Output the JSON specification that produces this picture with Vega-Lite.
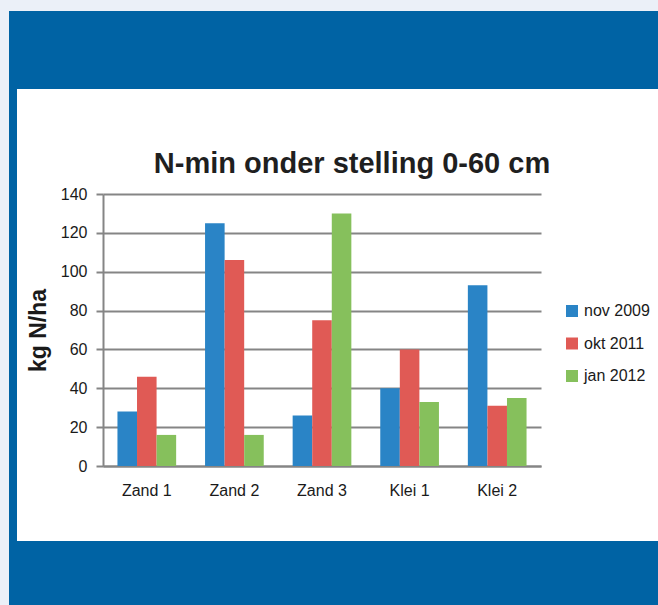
{
  "$schema": "https://vega.github.io/schema/vega-lite/v6.json",
  "background": "white",
  "padding": 0,
  "spacing": 0,
  "config": {
    "concat": {"spacing": 0},
    "view": {"stroke": null},
    "font": "Liberation Sans"
  },
  "vconcat": [
    {
      "width": 658, "height": 11,
      "view": {"fill": "#ebf0f8", "stroke": null},
      "data": {"values": []}, "mark": "rect", "encoding": {}
    },
    {
      "spacing": 0,
      "hconcat": [
        {
          "width": 9, "height": 594,
          "view": {"fill": "#ebf0f8", "stroke": null},
          "data": {"values": []}, "mark": "rect", "encoding": {}
        },
        {
          "spacing": 0,
          "vconcat": [
            {
              "width": 649, "height": 78,
              "view": {"fill": "#0063a4", "stroke": null},
              "data": {"values": []}, "mark": "rect", "encoding": {}
            },
            {
              "spacing": 0,
              "hconcat": [
                {
                  "width": 8, "height": 452,
                  "view": {"fill": "#0063a4", "stroke": null},
                  "data": {"values": []}, "mark": "rect", "encoding": {}
                },
                {
                  "spacing": 0,
                  "vconcat": [
                    {
                      "width": 641, "height": 61,
                      "view": {"fill": "white", "stroke": null},
                      "data": {"values": []}, "mark": "rect", "encoding": {}
                    },
                    {
                      "spacing": 0,
                      "hconcat": [
                        {
                          "width": 10, "height": 1,
                          "view": {"fill": "white", "stroke": null},
                          "data": {"values": []}, "mark": "rect", "encoding": {}
                        },
                        {
                          "width": 438,
                          "height": 272,
                          "title": {
                            "text": "N-min onder stelling 0-60 cm",
                            "fontSize": 29,
                            "fontWeight": "bold",
                            "color": "#1f1f1f",
                            "font": "Liberation Sans",
                            "anchor": "middle",
                            "dx": 30,
                            "offset": 7
                          },
                          "data": {
                            "values": [
                              {"site": "Zand 1", "series": "nov 2009", "value": 28},
                              {"site": "Zand 1", "series": "okt 2011", "value": 46},
                              {"site": "Zand 1", "series": "jan 2012", "value": 16},
                              {"site": "Zand 2", "series": "nov 2009", "value": 125},
                              {"site": "Zand 2", "series": "okt 2011", "value": 106},
                              {"site": "Zand 2", "series": "jan 2012", "value": 16},
                              {"site": "Zand 3", "series": "nov 2009", "value": 26},
                              {"site": "Zand 3", "series": "okt 2011", "value": 75},
                              {"site": "Zand 3", "series": "jan 2012", "value": 130},
                              {"site": "Klei 1", "series": "nov 2009", "value": 40},
                              {"site": "Klei 1", "series": "okt 2011", "value": 60},
                              {"site": "Klei 1", "series": "jan 2012", "value": 33},
                              {"site": "Klei 2", "series": "nov 2009", "value": 93},
                              {"site": "Klei 2", "series": "okt 2011", "value": 31},
                              {"site": "Klei 2", "series": "jan 2012", "value": 35}
                            ]
                          },
                          "mark": {"type": "bar"},
                          "encoding": {
                            "x": {
                              "field": "site",
                              "type": "nominal",
                              "sort": ["Zand 1", "Zand 2", "Zand 3", "Klei 1", "Klei 2"],
                              "scale": {"paddingInner": 0.33, "paddingOuter": 0.165},
                              "axis": {
                                "title": null,
                                "labelAngle": 0,
                                "ticks": false,
                                "domain": true,
                                "domainColor": "#858585",
                                "domainWidth": 2,
                                "labelFontSize": 16,
                                "labelColor": "#1a1a1a",
                                "labelPadding": 16
                              }
                            },
                            "xOffset": {
                              "field": "series",
                              "type": "nominal",
                              "sort": ["nov 2009", "okt 2011", "jan 2012"],
                              "scale": {"paddingInner": 0, "paddingOuter": 0}
                            },
                            "y": {
                              "field": "value",
                              "type": "quantitative",
                              "scale": {"domain": [0, 140], "nice": false},
                              "axis": {
                                "title": "kg N/ha",
                                "titleFontSize": 23,
                                "titleFontWeight": "bold",
                                "titleColor": "#1a1a1a",
                                "titlePadding": 10,
                                "values": [0, 20, 40, 60, 80, 100, 120, 140],
                                "grid": true,
                                "gridColor": "#858585",
                                "gridWidth": 2,
                                "domain": true,
                                "domainColor": "#858585",
                                "domainWidth": 2,
                                "ticks": true,
                                "tickSize": 7,
                                "tickWidth": 2,
                                "tickColor": "#858585",
                                "labelFontSize": 16,
                                "labelColor": "#1a1a1a",
                                "labelPadding": 9
                              }
                            },
                            "color": {
                              "field": "series",
                              "type": "nominal",
                              "sort": ["nov 2009", "okt 2011", "jan 2012"],
                              "scale": {
                                "domain": ["nov 2009", "okt 2011", "jan 2012"],
                                "range": ["#2a84c6", "#e05a55", "#86c05c"]
                              },
                              "legend": {
                                "title": null,
                                "orient": "none",
                                "legendX": 564,
                                "legendY": 303,
                                "padding": 0,
                                "symbolType": "square",
                                "symbolSize": 144,
                                "symbolStrokeWidth": 0,
                                "labelFontSize": 16,
                                "labelColor": "#1a1a1a",
                                "labelOffset": 4,
                                "rowPadding": 16.5
                              }
                            }
                          }
                        }
                      ]
                    }
                  ]
                }
              ]
            },
            {
              "width": 649, "height": 64,
              "view": {"fill": "#0063a4", "stroke": null},
              "data": {"values": []}, "mark": "rect", "encoding": {}
            }
          ]
        }
      ]
    }
  ]
}
